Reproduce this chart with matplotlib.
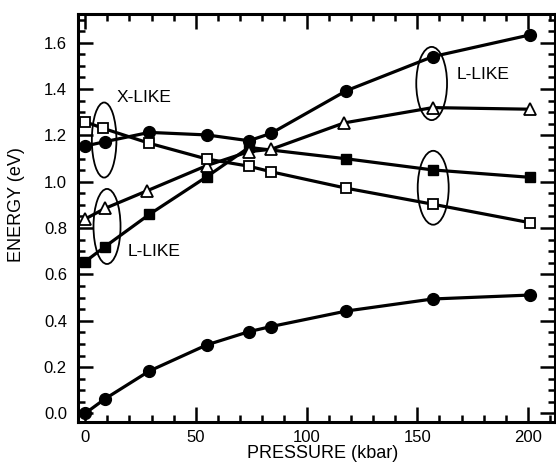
import matplotlib
matplotlib.use("Agg")
import matplotlib.pyplot as plt
from matplotlib.patches import Ellipse
from matplotlib.ticker import MultipleLocator

plt.rcParams['font.family'] = ['Liberation Sans', 'DejaVu Sans']

# Data (pressure in kbar, energy in eV)
p_low_circ = [0, 9, 29, 55, 74, 84, 118, 157, 201]
e_low_circ = [0.0, 0.063, 0.183, 0.296, 0.353, 0.375, 0.442, 0.494, 0.511]

p_up_circ = [0, 9, 29, 55, 74, 84, 118, 157, 201]
e_up_circ = [1.154, 1.173, 1.213, 1.202, 1.177, 1.209, 1.393, 1.540, 1.634]

p_tri = [0, 9, 28, 55, 74, 84, 117, 157, 201]
e_tri = [0.839, 0.885, 0.961, 1.070, 1.130, 1.140, 1.254, 1.320, 1.313]

p_fsq = [0, 9, 29, 55, 74, 118, 157, 201]
e_fsq = [0.655, 0.720, 0.859, 1.022, 1.148, 1.099, 1.051, 1.019]

p_osq = [0, 8, 29, 55, 74, 84, 118, 157, 201]
e_osq = [1.259, 1.231, 1.166, 1.098, 1.067, 1.043, 0.972, 0.903, 0.823]

xticks = [0, 50, 100, 150, 200]
yticks = [0.0, 0.2, 0.4, 0.6, 0.8, 1.0, 1.2, 1.4, 1.6]

# ellipses: (x center, y center, width, height)
ell_x = [8.6, 9.9, 156.5, 157.2]
ell_y = [1.180, 0.807, 1.424, 0.974]
ell_w = [11.1, 12.2, 13.9, 14.0]
ell_h = [0.324, 0.324, 0.316, 0.319]

fig = plt.figure(figsize=(5.56, 4.72), dpi=100)
ax = fig.add_axes([78/556, 1-422/472, (555-78)/556, (422-14)/472])

lw = 2.3
ax.plot(p_low_circ, e_low_circ, '-', color='black', lw=lw, marker='o', ms=8.5, mfc='black', mec='black')
ax.plot(p_fsq, e_fsq, '-', color='black', lw=lw, marker='s', ms=7, mfc='black', mec='black')
ax.plot(p_up_circ, e_up_circ, '-', color='black', lw=lw, marker='o', ms=8.5, mfc='black', mec='black')
ax.plot(p_tri, e_tri, '-', color='black', lw=lw, marker='^', ms=8, mfc='white', mec='black', mew=1.3)
ax.plot(p_osq, e_osq, '-', color='black', lw=lw, marker='s', ms=6.5, mfc='white', mec='black', mew=1.3)

for x, y, w, h in zip(ell_x, ell_y, ell_w, ell_h):
    ax.add_patch(Ellipse((x, y), w, h, fill=False, edgecolor='black', lw=1.3))

ax.text(14.4, 1.363, 'X-LIKE', fontsize=12.5, ha='left', va='center')
ax.text(19.4, 0.699, 'L-LIKE', fontsize=12.5, ha='left', va='center')
ax.text(167.8, 1.461, 'L-LIKE', fontsize=12.5, ha='left', va='center')

ax.set_xlim(-3.2, 212.2)
ax.set_ylim(-0.037, 1.724)
ax.set_xticks(xticks)
ax.set_yticks(yticks)
ax.set_yticklabels([f'{v:.1f}' for v in yticks])
ax.xaxis.set_minor_locator(MultipleLocator(10))
ax.yaxis.set_minor_locator(MultipleLocator(0.05))
ax.tick_params(which='both', direction='in', top=True, right=True, width=1.8, labelsize=12)
ax.tick_params(which='major', length=11)
ax.tick_params(which='minor', length=5)
ax.tick_params(axis='y', pad=8)
ax.tick_params(axis='x', pad=6)
for s in ax.spines.values():
    s.set_linewidth(2.2)

ax.set_xlabel('PRESSURE (kbar)', fontsize=13)
ax.set_ylabel('ENERGY (eV)', fontsize=13)
ax.xaxis.set_label_coords(0.512, -0.056)
ax.yaxis.set_label_coords(-0.111, 0.534)

fig.savefig('out.png', dpi=100)
